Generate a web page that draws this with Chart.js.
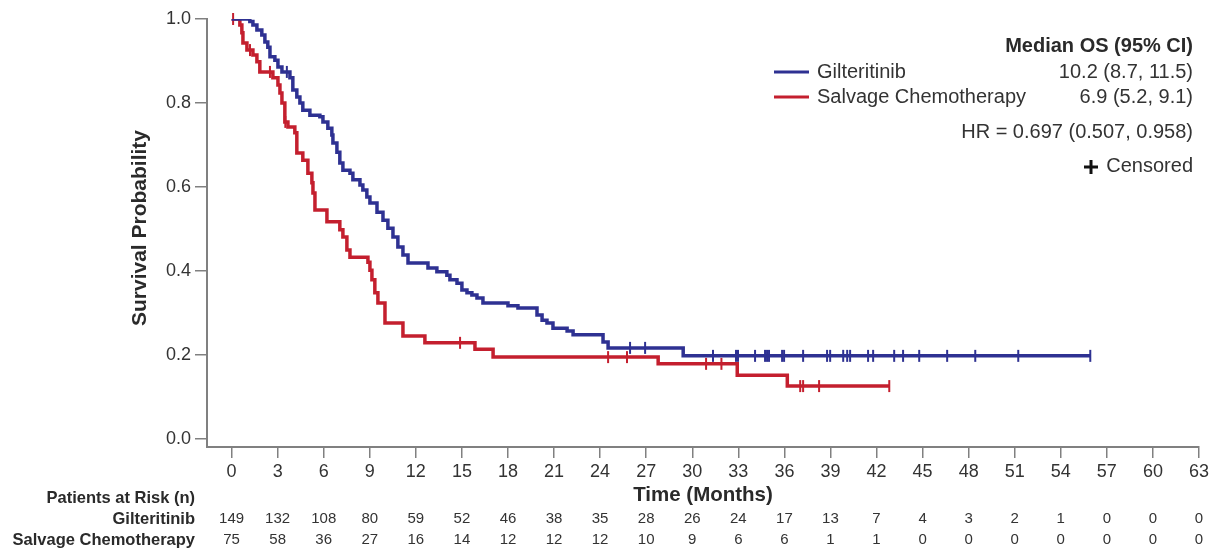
<!DOCTYPE html>
<html>
<head>
<meta charset="utf-8">
<title>Overall survival</title>
<script src="https://cdn.jsdelivr.net/npm/chart.js@4.4.1/dist/chart.umd.min.js"></script>
<style>
  html, body { margin: 0; padding: 0; background: #fff; }
  canvas { display: block; }
</style>
</head>
<body>
<canvas id="km" width="1220" height="551"></canvas>
<script>
'use strict';

// ---- data ----
const xTicks = [0, 3, 6, 9, 12, 15, 18, 21, 24, 27, 30, 33, 36, 39, 42, 45, 48, 51, 54, 57, 60, 63];
const yTicks = [0, 0.2, 0.4, 0.6, 0.8, 1.0];

// Gilteritinib: event times (months) and survival after each step
const giltTimes = [0, 1.19, 1.39, 1.65, 1.97, 2.17, 2.36, 2.50, 2.82, 3.02, 3.28, 3.80, 3.99, 4.25, 4.45,
  4.64, 5.10, 5.75, 5.95, 6.27, 6.53, 6.60, 6.86, 7.05, 7.25, 7.71, 7.90, 8.36, 8.55, 8.81, 9.01, 9.47,
  9.86, 10.18, 10.51, 10.83, 11.16, 11.49, 12.79, 13.37, 14.02, 14.22, 14.68, 15.00, 15.33, 15.65, 15.98,
  16.37, 18.00, 18.65, 19.89, 20.22, 20.54, 20.93, 21.85, 22.24, 24.19, 24.52, 29.41, 55.92];
const giltSurv = [1.0, 0.994, 0.986, 0.974, 0.962, 0.945, 0.933, 0.910, 0.902, 0.886, 0.874, 0.860, 0.831,
  0.814, 0.800, 0.783, 0.771, 0.767, 0.755, 0.740, 0.724, 0.705, 0.683, 0.657, 0.640, 0.633, 0.617, 0.605,
  0.593, 0.576, 0.562, 0.540, 0.521, 0.502, 0.481, 0.457, 0.438, 0.419, 0.407, 0.398, 0.390, 0.379, 0.371,
  0.355, 0.348, 0.343, 0.336, 0.324, 0.317, 0.312, 0.295, 0.283, 0.276, 0.264, 0.257, 0.248, 0.231, 0.217,
  0.198, 0.198];
const giltCensored = [3.6, 25.95, 26.93, 31.35, 32.85, 32.98, 34.09, 34.74, 34.87, 35.0, 35.85, 35.98, 37.22,
  38.78, 38.98, 39.83, 40.09, 40.28, 41.45, 41.78, 43.15, 43.73, 44.78, 46.6, 48.43, 51.23, 55.92];

// Salvage chemotherapy
const salvTimes = [0, 0.54, 0.67, 0.74, 1.0, 1.39, 1.65, 1.84, 2.69, 3.02, 3.15, 3.28, 3.47, 3.67, 4.12,
  4.25, 4.64, 4.97, 5.23, 5.30, 5.43, 6.21, 7.05, 7.25, 7.51, 7.71, 8.88, 9.01, 9.14, 9.33, 9.53, 9.99,
  11.16, 12.59, 15.85, 17.03, 27.78, 32.93, 36.19, 42.83];
const salvSurv = [1.0, 0.986, 0.967, 0.943, 0.926, 0.914, 0.898, 0.874, 0.860, 0.843, 0.824, 0.800, 0.755,
  0.743, 0.729, 0.681, 0.664, 0.633, 0.610, 0.586, 0.545, 0.517, 0.498, 0.481, 0.450, 0.433, 0.421, 0.402,
  0.379, 0.348, 0.324, 0.276, 0.245, 0.229, 0.214, 0.195, 0.179, 0.152, 0.126, 0.126];
const salvCensored = [0.1, 1.2, 2.5, 3.5, 14.88, 24.52, 25.75, 30.9, 31.9, 37.03, 37.22, 38.26, 42.83];

// Patients at risk at each x tick
const giltRisk = [149, 132, 108, 80, 59, 52, 46, 38, 35, 28, 26, 24, 17, 13, 7, 4, 3, 2, 1, 0, 0, 0];
const salvRisk = [75, 58, 36, 27, 16, 14, 12, 12, 12, 10, 9, 6, 6, 1, 1, 0, 0, 0, 0, 0, 0, 0];

const BLUE = '#2e3192';
const RED = '#c41f2e';
const AXIS = '#808080';
const FONT = "'Liberation Sans', Arial, Helvetica, sans-serif";

// value of the step function at time t
function survAt(times, surv, t) {
  let s = surv[0];
  for (let i = 0; i < times.length; i++) {
    if (times[i] <= t) s = surv[i];
  }
  return s;
}

const toPoints = (times, surv) => times.map((t, i) => ({ x: t, y: surv[i] }));
const censorPoints = (cens, times, surv) => cens.map(t => ({ x: t, y: survAt(times, surv, t) }));

// ---- texts around the plot ----
const annotations = {
  id: 'annotations',
  afterDraw(chart) {
    const ctx = chart.ctx;
    const xs = chart.scales.x;
    ctx.save();

    // y title
    ctx.fillStyle = '#2a2a2a';
    ctx.font = `bold 21px ${FONT}`;
    ctx.textAlign = 'center';
    ctx.textBaseline = 'middle';
    ctx.translate(140, 228);
    ctx.rotate(-Math.PI / 2);
    ctx.fillText('Survival Probability', 0, 0);
    ctx.setTransform(1, 0, 0, 1, 0, 0);

    // x title
    ctx.font = `bold 20.5px ${FONT}`;
    ctx.fillText('Time (Months)', 703, 495);

    // patients at risk
    ctx.textAlign = 'right';
    ctx.font = `bold 16.5px ${FONT}`;
    ctx.fillText('Patients at Risk (n)', 195, 498);
    ctx.fillText('Gilteritinib', 195, 519);
    ctx.fillText('Salvage Chemotherapy', 195, 540);
    ctx.textAlign = 'center';
    ctx.font = `15px ${FONT}`;
    ctx.fillStyle = '#333';
    xTicks.forEach((t, i) => {
      const px = xs.getPixelForValue(t);
      ctx.fillText(String(giltRisk[i]), px, 519);
      ctx.fillText(String(salvRisk[i]), px, 540);
    });

    // legend block
    ctx.fillStyle = '#2a2a2a';
    ctx.textAlign = 'right';
    ctx.font = `bold 20px ${FONT}`;
    ctx.fillText('Median OS (95% CI)', 1193, 46);
    ctx.font = `20px ${FONT}`;
    ctx.fillStyle = '#333';
    ctx.fillText('10.2 (8.7, 11.5)', 1193, 72);
    ctx.fillText('6.9 (5.2, 9.1)', 1193, 97);
    ctx.fillText('HR = 0.697 (0.507, 0.958)', 1193, 132);
    ctx.fillText('Censored', 1193, 166);
    ctx.textAlign = 'left';
    ctx.fillText('Gilteritinib', 817, 72);
    ctx.fillText('Salvage Chemotherapy', 817, 97);

    ctx.lineWidth = 3;
    ctx.strokeStyle = BLUE;
    ctx.beginPath(); ctx.moveTo(774, 72); ctx.lineTo(809, 72); ctx.stroke();
    ctx.strokeStyle = RED;
    ctx.beginPath(); ctx.moveTo(774, 97); ctx.lineTo(809, 97); ctx.stroke();

    // censored symbol
    ctx.strokeStyle = '#111';
    ctx.lineWidth = 3;
    ctx.beginPath();
    ctx.moveTo(1084, 167); ctx.lineTo(1098, 167);
    ctx.moveTo(1091, 160); ctx.lineTo(1091, 174);
    ctx.stroke();

    ctx.restore();
  }
};

new Chart(document.getElementById('km').getContext('2d'), {
  type: 'line',
  data: {
    datasets: [
      {
        label: 'Gilteritinib censored',
        type: 'scatter',
        data: censorPoints(giltCensored, giltTimes, giltSurv),
        pointStyle: 'line',
        rotation: 90,
        radius: 6,
        borderWidth: 2,
        borderColor: BLUE,
        clip: false,
      },
      {
        label: 'Gilteritinib',
        data: toPoints(giltTimes, giltSurv),
        stepped: 'before',
        borderColor: BLUE,
        borderWidth: 3.5,
        pointRadius: 0,
        fill: false,
      },
      {
        label: 'Salvage censored',
        type: 'scatter',
        data: censorPoints(salvCensored, salvTimes, salvSurv),
        pointStyle: 'line',
        rotation: 90,
        radius: 6,
        borderWidth: 2,
        borderColor: RED,
        clip: false,
      },
      {
        label: 'Salvage Chemotherapy',
        data: toPoints(salvTimes, salvSurv),
        stepped: 'before',
        borderColor: RED,
        borderWidth: 3.5,
        pointRadius: 0,
        fill: false,
      },
    ],
  },
  options: {
    responsive: false,
    animation: false,
    devicePixelRatio: 1,
    layout: { padding: { left: 0, right: 21, top: 19, bottom: 0 } },
    plugins: { legend: { display: false }, tooltip: { enabled: false } },
    scales: {
      x: {
        type: 'linear',
        min: -1.6,
        max: 63,
        afterBuildTicks: s => { s.ticks = xTicks.map(v => ({ value: v })); },
        afterFit: s => { s.height = 104; },
        border: { display: true, color: AXIS, width: 2 },
        grid: { drawOnChartArea: false, drawTicks: true, tickLength: 11, tickColor: AXIS, lineWidth: 1.5 },
        ticks: { autoSkip: false, maxRotation: 0, padding: 3, color: '#333', font: { size: 18, family: FONT } },
      },
      y: {
        type: 'linear',
        min: -0.019,
        max: 1.0,
        afterBuildTicks: s => { s.ticks = yTicks.map(v => ({ value: v })); },
        afterFit: s => { s.width = 207; },
        border: { display: true, color: AXIS, width: 2 },
        grid: { drawOnChartArea: false, drawTicks: true, tickLength: 12, tickColor: AXIS, lineWidth: 1.5 },
        ticks: { padding: 4, color: '#333', font: { size: 18, family: FONT }, callback: v => v.toFixed(1) },
      },
    },
  },
  plugins: [annotations],
});
</script>
</body>
</html>
